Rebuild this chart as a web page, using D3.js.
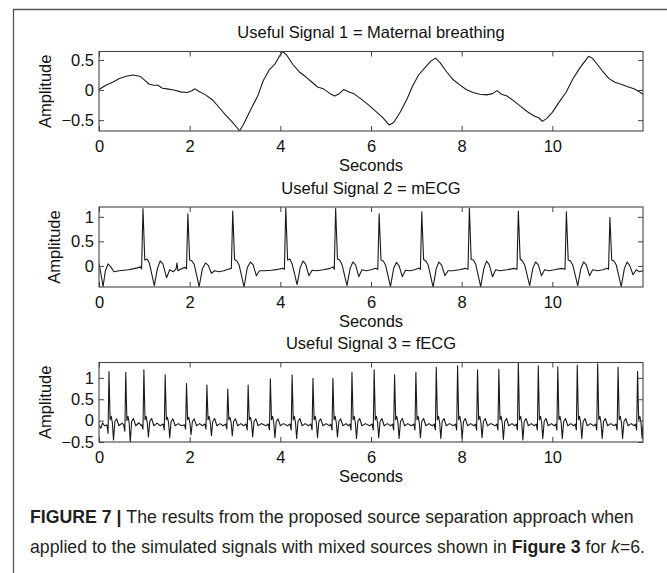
<!DOCTYPE html>
<html>
<head>
<meta charset="utf-8">
<script src="https://cdn.jsdelivr.net/npm/d3@7"></script>
<style>
  body { margin: 0; background: #fff; }
  svg { display: block; }
  text { font-family: "Liberation Sans", Arial, sans-serif; }
</style>
</head>
<body>
<svg id="chart"></svg>
<script>
// signal values, [seconds, amplitude]
var breathing = [[0,0.01],[0.15,0.08],[0.3,0.13],[0.45,0.19],[0.6,0.23],[0.75,0.25],[0.9,0.23],[1.0,0.17],[1.1,0.1],[1.2,0.08],[1.3,0.08],[1.4,0.03],[1.5,0.02],[1.65,0.0],[1.8,-0.03],[1.95,-0.04],[2.05,-0.01],[2.12,0.02],[2.2,-0.02],[2.35,-0.08],[2.5,-0.16],[2.65,-0.29],[2.8,-0.42],[2.95,-0.54],[3.05,-0.63],[3.1,-0.68],[3.2,-0.55],[3.35,-0.32],[3.5,-0.1],[3.62,0.15],[3.75,0.33],[3.88,0.43],[3.97,0.55],[4.05,0.64],[4.15,0.57],[4.28,0.42],[4.42,0.3],[4.56,0.22],[4.7,0.13],[4.82,0.05],[4.95,0.02],[5.1,-0.06],[5.2,-0.1],[5.3,-0.06],[5.4,0.01],[5.5,-0.03],[5.62,-0.06],[5.8,-0.16],[5.95,-0.25],[6.1,-0.35],[6.25,-0.45],[6.4,-0.58],[6.5,-0.54],[6.65,-0.36],[6.8,-0.14],[6.92,0.07],[7.05,0.25],[7.2,0.38],[7.32,0.48],[7.42,0.53],[7.52,0.46],[7.65,0.32],[7.8,0.18],[7.95,0.09],[8.1,0.01],[8.25,-0.04],[8.4,-0.07],[8.55,-0.08],[8.68,-0.06],[8.78,-0.01],[8.88,-0.07],[9.0,-0.1],[9.15,-0.18],[9.3,-0.27],[9.45,-0.36],[9.6,-0.43],[9.7,-0.46],[9.78,-0.52],[9.88,-0.47],[10.0,-0.37],[10.15,-0.2],[10.3,-0.04],[10.45,0.18],[10.6,0.36],[10.72,0.48],[10.8,0.56],[10.88,0.53],[11.0,0.42],[11.12,0.3],[11.25,0.19],[11.38,0.13],[11.5,0.1],[11.65,0.06],[11.8,0.02],[11.92,-0.03],[12.0,-0.07]];

var mecg = [[0,0.05],[0.04,-0.15],[0.09,-0.42],[0.14,-0.1],[0.2,0.04],[0.26,-0.02],[0.33,-0.12],[0.45,-0.1],[0.55,-0.09],[0.65,-0.08],[0.75,-0.06],[0.85,-0.04],[0.91,-0.02],[0.94,-0.06],
  [0.97,1.17],[1.01,0.12],[1.06,0.14],[1.11,0.06],[1.22,-0.4],[1.29,-0.05],[1.35,0.1],[1.41,0.04],[1.49,-0.24],[1.56,-0.08],[1.64,-0.12],[1.7,-0.06],[1.72,0.06],[1.74,-0.1],[1.82,-0.06],[1.9,-0.03],[1.93,-0.06],
  [1.96,1.06],[2.0,0.12],[2.05,0.1],[2.1,0.03],[2.21,-0.42],[2.28,-0.06],[2.35,0.06],[2.41,0.01],[2.48,-0.15],[2.55,-0.1],[2.65,-0.12],[2.75,-0.1],[2.85,-0.07],[2.92,-0.05],
  [2.95,1.12],[2.99,0.13],[3.04,0.1],[3.09,0.02],[3.2,-0.43],[3.27,-0.04],[3.34,0.08],[3.4,0.02],[3.47,-0.2],[3.54,-0.1],[3.65,-0.1],[3.8,-0.09],[3.95,-0.07],[4.05,-0.05],[4.09,-0.07],
  [4.12,1.18],[4.16,0.12],[4.21,0.14],[4.26,0.04],[4.37,-0.38],[4.44,-0.03],[4.5,0.1],[4.56,0.03],[4.63,-0.2],[4.7,-0.09],[4.8,-0.1],[4.95,-0.08],[5.1,-0.05],[5.16,-0.02],[5.19,-0.07],
  [5.22,1.17],[5.26,0.14],[5.31,0.12],[5.36,0.03],[5.47,-0.4],[5.54,-0.05],[5.6,0.08],[5.66,0.02],[5.73,-0.22],[5.8,-0.08],[5.9,-0.1],[6.0,-0.08],[6.1,-0.05],[6.15,-0.07],
  [6.18,1.06],[6.22,0.12],[6.27,0.1],[6.32,0.02],[6.43,-0.42],[6.5,-0.05],[6.56,0.07],[6.62,0.0],[6.69,-0.22],[6.76,-0.09],[6.86,-0.1],[6.96,-0.08],[7.05,-0.05],[7.09,-0.07],
  [7.12,1.1],[7.16,0.13],[7.21,0.1],[7.26,0.02],[7.37,-0.43],[7.44,-0.05],[7.5,0.08],[7.56,0.01],[7.63,-0.2],[7.7,-0.1],[7.8,-0.1],[7.95,-0.08],[8.08,-0.05],[8.14,-0.07],
  [8.17,1.18],[8.21,0.13],[8.26,0.12],[8.31,0.03],[8.42,-0.42],[8.49,-0.05],[8.55,0.1],[8.61,0.02],[8.68,-0.22],[8.75,-0.08],[8.85,-0.1],[9.0,-0.08],[9.15,-0.05],[9.22,-0.07],
  [9.25,1.12],[9.29,0.14],[9.34,0.1],[9.39,0.02],[9.5,-0.4],[9.57,-0.05],[9.63,0.08],[9.69,0.02],[9.76,-0.2],[9.83,-0.08],[9.93,-0.1],[10.05,-0.08],[10.2,-0.05],[10.28,-0.07],
  [10.31,1.1],[10.35,0.12],[10.4,0.1],[10.45,0.02],[10.56,-0.4],[10.63,-0.05],[10.69,0.08],[10.75,0.02],[10.82,-0.2],[10.89,-0.08],[11.0,-0.1],[11.12,-0.08],[11.2,-0.05],[11.24,-0.07],
  [11.27,0.99],[11.31,0.12],[11.36,0.1],[11.41,0.02],[11.52,-0.42],[11.59,-0.05],[11.65,0.08],[11.71,0.0],[11.78,-0.18],[11.85,-0.08],[11.92,-0.12],[12.0,-0.1]];

var fecg = [[0,-0.1],[0.04,-0.18],[0.08,-0.05],[0.12,-0.12],[0.175,-0.1],[0.2,-0.3],
  [0.22,1.15],[0.245,0.02],[0.27,0.1],[0.295,-0.05],[0.32,-0.45],[0.35,-0.02],[0.39,0.04],[0.44,-0.12],[0.51,-0.06],
  [0.545,-0.1],[0.57,-0.25],[0.59,1.13],[0.615,0.0],[0.64,0.1],[0.665,-0.05],[0.69,-0.5],[0.72,-0.02],[0.76,0.05],[0.81,-0.12],[0.88,-0.05],[0.94,-0.12],
  [0.945,-0.1],[0.97,-0.2],[0.99,1.19],[1.015,0.02],[1.04,0.1],[1.065,-0.05],[1.09,-0.38],[1.12,-0.02],[1.16,0.05],[1.21,-0.12],[1.28,-0.06],[1.35,-0.12],
  [1.415,-0.08],[1.44,-0.22],[1.46,1.07],[1.485,0.02],[1.51,0.08],[1.535,-0.05],[1.56,-0.4],[1.59,-0.02],[1.63,0.04],[1.68,-0.12],[1.75,-0.07],[1.82,-0.12],
  [1.885,-0.1],[1.91,-0.2],[1.93,0.87],[1.955,0.02],[1.98,0.08],[2.005,-0.05],[2.03,-0.33],[2.06,-0.02],[2.1,0.04],[2.15,-0.12],[2.22,-0.07],[2.28,-0.12],
  [2.335,-0.08],[2.36,-0.2],[2.38,0.83],[2.405,0.02],[2.43,0.1],[2.455,-0.05],[2.48,-0.35],[2.51,-0.02],[2.55,0.05],[2.6,-0.12],[2.67,-0.07],[2.74,-0.12],
  [2.795,-0.08],[2.82,-0.2],[2.84,0.74],[2.865,0.02],[2.89,0.08],[2.915,-0.05],[2.94,-0.36],[2.97,-0.02],[3.01,0.04],[3.06,-0.12],[3.13,-0.07],[3.19,-0.12],
  [3.245,-0.08],[3.27,-0.22],[3.29,0.83],[3.315,0.02],[3.34,0.08],[3.365,-0.05],[3.39,-0.38],[3.42,-0.02],[3.46,0.04],[3.51,-0.12],[3.58,-0.07],[3.68,-0.12],
  [3.735,-0.08],[3.76,-0.22],[3.78,0.98],[3.805,0.02],[3.83,0.1],[3.855,-0.05],[3.88,-0.4],[3.91,-0.02],[3.95,0.04],[4.0,-0.12],[4.07,-0.07],[4.16,-0.12],
  [4.215,-0.08],[4.24,-0.22],[4.26,1.07],[4.285,0.02],[4.31,0.1],[4.335,-0.05],[4.36,-0.42],[4.39,-0.02],[4.43,0.05],[4.48,-0.12],[4.55,-0.07],[4.62,-0.12],
  [4.675,-0.08],[4.7,-0.22],[4.72,0.99],[4.745,0.02],[4.77,0.1],[4.795,-0.05],[4.82,-0.4],[4.85,-0.02],[4.89,0.04],[4.94,-0.12],[5.01,-0.07],[5.08,-0.12],
  [5.115,-0.08],[5.14,-0.22],[5.16,0.99],[5.185,0.02],[5.21,0.1],[5.235,-0.05],[5.26,-0.38],[5.29,-0.02],[5.33,0.04],[5.38,-0.12],[5.45,-0.07],[5.5,-0.12],
  [5.535,-0.08],[5.56,-0.22],[5.58,1.13],[5.605,0.02],[5.63,0.1],[5.655,-0.05],[5.68,-0.42],[5.71,-0.02],[5.75,0.05],[5.8,-0.12],[5.88,-0.07],[5.97,-0.12],
  [6.025,-0.08],[6.05,-0.22],[6.07,1.19],[6.095,0.02],[6.12,0.1],[6.145,-0.05],[6.17,-0.4],[6.2,-0.02],[6.24,0.05],[6.29,-0.12],[6.36,-0.07],[6.43,-0.12],
  [6.475,-0.08],[6.5,-0.22],[6.52,1.07],[6.545,0.02],[6.57,0.1],[6.595,-0.05],[6.62,-0.42],[6.65,-0.02],[6.69,0.05],[6.74,-0.12],[6.81,-0.07],[6.89,-0.12],
  [6.945,-0.08],[6.97,-0.22],[6.99,1.13],[7.015,0.02],[7.04,0.1],[7.065,-0.05],[7.09,-0.4],[7.12,-0.02],[7.16,0.05],[7.21,-0.12],[7.28,-0.07],[7.35,-0.12],
  [7.395,-0.08],[7.42,-0.22],[7.44,1.25],[7.465,0.02],[7.49,0.1],[7.515,-0.05],[7.54,-0.42],[7.57,-0.02],[7.61,0.05],[7.66,-0.12],[7.73,-0.07],[7.82,-0.12],
  [7.865,-0.08],[7.89,-0.22],[7.91,1.28],[7.935,0.02],[7.96,0.1],[7.985,-0.05],[8.01,-0.42],[8.04,-0.02],[8.08,0.05],[8.13,-0.12],[8.2,-0.07],[8.27,-0.12],
  [8.305,-0.08],[8.33,-0.22],[8.35,1.19],[8.375,0.02],[8.4,0.1],[8.425,-0.05],[8.45,-0.4],[8.48,-0.02],[8.52,0.05],[8.57,-0.12],[8.64,-0.07],[8.74,-0.12],
  [8.775,-0.08],[8.8,-0.22],[8.82,1.2],[8.845,0.02],[8.87,0.1],[8.895,-0.05],[8.92,-0.44],[8.95,-0.02],[8.99,0.05],[9.04,-0.12],[9.11,-0.07],[9.17,-0.12],
  [9.205,-0.08],[9.23,-0.22],[9.25,1.36],[9.275,0.02],[9.3,0.1],[9.325,-0.05],[9.35,-0.45],[9.38,-0.02],[9.42,0.05],[9.47,-0.12],[9.54,-0.07],[9.6,-0.12],
  [9.645,-0.08],[9.67,-0.22],[9.69,1.28],[9.715,0.02],[9.74,0.1],[9.765,-0.05],[9.79,-0.42],[9.82,-0.02],[9.86,0.05],[9.91,-0.12],[9.98,-0.07],[10.04,-0.12],
  [10.075,-0.08],[10.1,-0.22],[10.12,1.26],[10.145,0.02],[10.17,0.1],[10.195,-0.05],[10.22,-0.42],[10.25,-0.02],[10.29,0.05],[10.34,-0.12],[10.41,-0.07],[10.47,-0.12],
  [10.505,-0.08],[10.53,-0.22],[10.55,1.3],[10.575,0.02],[10.6,0.1],[10.625,-0.05],[10.65,-0.42],[10.68,-0.02],[10.72,0.05],[10.77,-0.12],[10.84,-0.07],[10.91,-0.12],
  [10.955,-0.08],[10.98,-0.22],[11.0,1.33],[11.025,0.02],[11.05,0.1],[11.075,-0.05],[11.1,-0.42],[11.13,-0.02],[11.17,0.05],[11.22,-0.12],[11.29,-0.07],[11.36,-0.12],
  [11.405,-0.08],[11.43,-0.22],[11.45,1.25],[11.475,0.02],[11.5,0.1],[11.525,-0.05],[11.55,-0.42],[11.58,-0.02],[11.62,0.05],[11.67,-0.12],[11.74,-0.07],[11.8,-0.12],
  [11.835,-0.08],[11.86,-0.22],[11.88,1.15],[11.905,0.02],[11.93,0.1],[11.955,-0.05],[11.98,-0.42],[12.0,-0.1]];

var titles = ["Useful Signal 1 = Maternal breathing", "Useful Signal 2 = mECG", "Useful Signal 3 = fECG"];
var xTicks = [0, 2, 4, 6, 8, 10];
var yTicks1 = [-0.5, 0, 0.5];
var yTicks2 = [0, 0.5, 1];
var yTicks3 = [-0.5, 0, 0.5, 1];

var width = 667, height = 573;
var left = 99, right = 643;
var fontSize = 16.5;

var svg = d3.select("#chart")
    .attr("width", width)
    .attr("height", height);

// outer figure frame (open on the right and bottom)
svg.append("path")
    .attr("d", "M13.5," + height + "V9.5H" + width)
    .attr("fill", "none")
    .attr("stroke", "#555")
    .attr("stroke-width", 1.3);

var panels = [
    { data: breathing, title: titles[0], yDomain: [-0.68, 0.64], yTicks: yTicks1, top: 51.5, bottom: 131, labelX: 51 },
    { data: mecg, title: titles[1], yDomain: [-0.43, 1.2], yTicks: yTicks2, top: 207, bottom: 287, labelX: 60 },
    { data: fecg, title: titles[2], yDomain: [-0.5, 1.36], yTicks: yTicks3, top: 362.5, bottom: 442, labelX: 51 }
];

var x = d3.scaleLinear().domain([0, 12]).range([left, right]);

function fmt(d) {
    return d < 0 ? "\u2212" + Math.abs(d) : String(d);
}

panels.forEach(function (p, i) {
    var y = d3.scaleLinear().domain(p.yDomain).range([p.bottom, p.top]);
    var g = svg.append("g");

    g.append("clipPath").attr("id", "clip" + i)
        .append("rect")
        .attr("x", left).attr("y", p.top)
        .attr("width", right - left).attr("height", p.bottom - p.top);

    var line = d3.line()
        .x(function (d) { return x(d[0]); })
        .y(function (d) { return y(d[1]); });

    g.append("path")
        .datum(p.data)
        .attr("clip-path", "url(#clip" + i + ")")
        .attr("fill", "none")
        .attr("stroke", "#1a1a1a")
        .attr("stroke-width", 1.1)
        .attr("stroke-linejoin", "round")
        .attr("d", line);

    // axes with inward ticks, MATLAB style box
    g.append("g").attr("transform", "translate(0," + p.bottom + ")")
        .call(d3.axisBottom(x).tickValues(xTicks).tickSize(-5).tickPadding(9).tickFormat(fmt));
    g.append("g").attr("transform", "translate(0," + p.top + ")")
        .call(d3.axisTop(x).tickValues(xTicks).tickSize(-5).tickFormat(""));
    g.append("g").attr("transform", "translate(" + left + ",0)")
        .call(d3.axisLeft(y).tickValues(p.yTicks).tickSize(-5).tickPadding(5).tickFormat(fmt));
    g.append("g").attr("transform", "translate(" + right + ",0)")
        .call(d3.axisRight(y).tickValues(p.yTicks).tickSize(-5).tickFormat(""));

    g.selectAll(".domain").remove();
    g.append("rect")
        .attr("x", left).attr("y", p.top)
        .attr("width", right - left).attr("height", p.bottom - p.top)
        .attr("fill", "none").attr("stroke", "#444").attr("stroke-width", 1.1);

    g.selectAll(".tick line").attr("stroke", "#444");
    g.selectAll(".tick text")
        .attr("font-family", "Liberation Sans, Arial, sans-serif")
        .attr("font-size", fontSize)
        .attr("fill", "#111");

    g.append("text")
        .attr("x", (left + right) / 2).attr("y", p.top - 13.5)
        .attr("text-anchor", "middle")
        .attr("font-size", fontSize).attr("fill", "#111")
        .text(p.title);

    g.append("text")
        .attr("x", (left + right) / 2).attr("y", p.bottom + 40)
        .attr("text-anchor", "middle")
        .attr("font-size", fontSize).attr("fill", "#111")
        .text("Seconds");

    g.append("text")
        .attr("transform", "translate(" + p.labelX + "," + (p.top + p.bottom) / 2 + ") rotate(-90)")
        .attr("text-anchor", "middle")
        .attr("font-size", fontSize).attr("fill", "#111")
        .text("Amplitude");
});

// caption
var cap1 = svg.append("text").attr("x", 30).attr("y", 523)
    .attr("font-size", 17.7).attr("fill", "#231f20");
cap1.append("tspan").attr("font-weight", "bold").text("FIGURE 7 | ");
cap1.append("tspan").text("The results from the proposed source separation approach when");

var cap2 = svg.append("text").attr("x", 30).attr("y", 553)
    .attr("font-size", 17.7).attr("fill", "#231f20");
cap2.append("tspan").text("applied to the simulated signals with mixed sources shown in ");
cap2.append("tspan").attr("font-weight", "bold").text("Figure 3");
cap2.append("tspan").text(" for ");
cap2.append("tspan").attr("font-style", "italic").text("k");
cap2.append("tspan").text("=6.");
</script>
</body>
</html>
